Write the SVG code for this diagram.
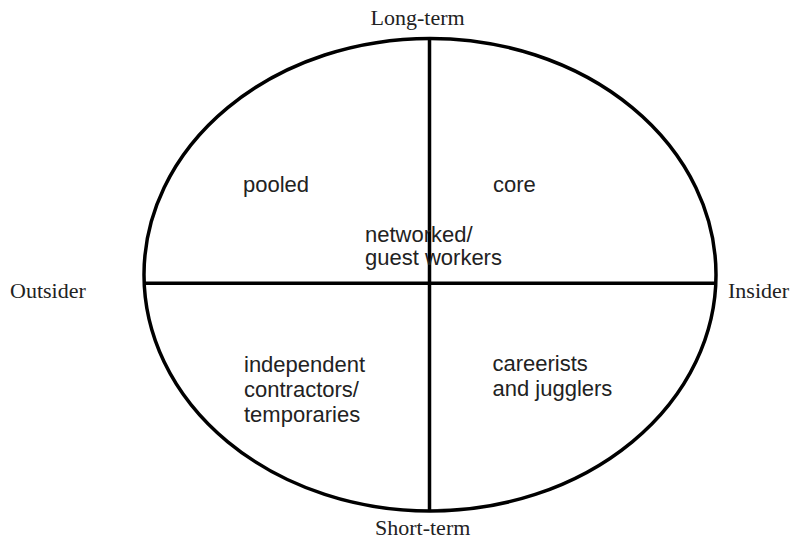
<svg xmlns="http://www.w3.org/2000/svg" width="791" height="539" viewBox="0 0 791 539">
<style>
.shape{fill:none;stroke:#000;stroke-width:3.5}
.serif{font-family:"Liberation Serif","Times New Roman",serif;font-size:22px;fill:#222}
.sans{font-family:"Liberation Sans",Arial,sans-serif;font-size:22px;fill:#222}
</style>
<rect width="791" height="539" fill="#fff"/>
<g id="ellipse"><ellipse class="shape" cx="430" cy="274.7" rx="286" ry="236.3"/></g>
<g id="connectors">
<line class="shape" x1="429.5" y1="38" x2="429.5" y2="511"/>
<line class="shape" x1="144" y1="283.3" x2="716" y2="283.3"/>
</g>
<g id="axis-labels">
<text class="serif" x="370.5" y="25">Long-term</text>
<text class="serif" x="375" y="535">Short-term</text>
<text class="serif" x="10" y="297.5">Outsider</text>
<text class="serif" x="728" y="297.5">Insider</text>
</g>
<g id="pooled"><text class="sans" x="243" y="192">pooled</text></g>
<g id="core"><text class="sans" x="493" y="192">core</text></g>
<g id="networked"><text class="sans" x="365" y="242">networked/</text><text class="sans" x="365" y="265">guest workers</text></g>
<g id="independent"><text class="sans" x="244" y="371.5">independent</text><text class="sans" x="244" y="396.5">contractors/</text><text class="sans" x="244" y="421.5">temporaries</text></g>
<g id="careerists"><text class="sans" x="492.5" y="370.5">careerists</text><text class="sans" x="492.5" y="396">and jugglers</text></g>
</svg>
